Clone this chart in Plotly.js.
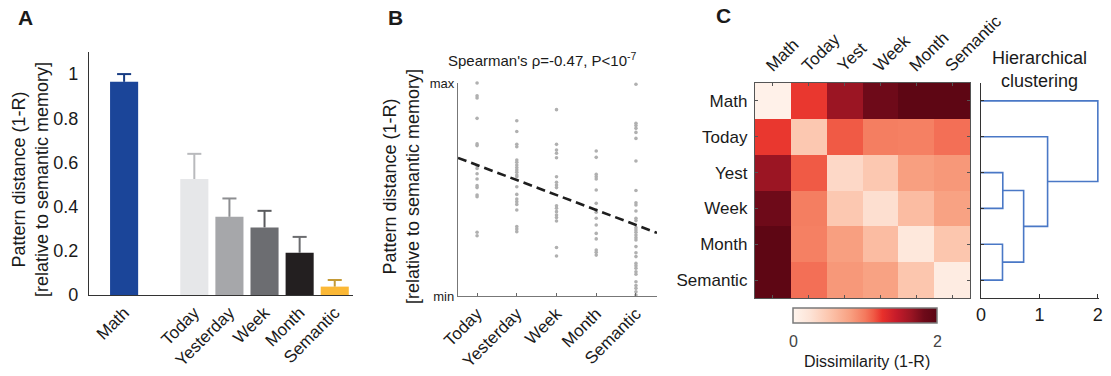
<!DOCTYPE html>
<html>
<head>
<meta charset="utf-8">
<script src="https://cdn.plot.ly/plotly-3.0.1.min.js"></script>
<style>html,body{margin:0;padding:0;background:#fff;}#chart{width:1111px;height:376px;}</style>
</head>
<body>
<div id="chart"></div>
<script>
// ---------- Panel A data ----------
const categoriesA = ['Math', 'Today', 'Yesterday', 'Week', 'Month', 'Semantic'];
const meansA = [0.965, 0.525, 0.354, 0.306, 0.191, 0.038];
const semA = [0.035, 0.114, 0.083, 0.075, 0.072, 0.030];
const barColorsA = ['#1b4599', '#e6e7e9', '#a6a7aa', '#6c6d71', '#231f20', '#fbb836'];
const errColorsA = ['#163b82', '#b9babd', '#8d8e91', '#5a5b5e', '#6b6c6f', '#c49a36'];

// ---------- Panel B data (normalised min..max) ----------
const categoriesB = ['Today', 'Yesterday', 'Week', 'Month', 'Semantic'];
const distToday = [1.0, 0.94, 0.93, 0.834, 0.714, 0.706, 0.612, 0.599, 0.574, 0.549, 0.518, 0.509, 0.474, 0.466, 0.299, 0.283];
const distYesterday = [0.823, 0.772, 0.712, 0.701, 0.638, 0.628, 0.615, 0.603, 0.592, 0.581, 0.568, 0.560, 0.513, 0.477, 0.455, 0.443, 0.430, 0.404, 0.326, 0.315, 0.302];
const distWeek = [0.875, 0.712, 0.685, 0.670, 0.649, 0.560, 0.534, 0.521, 0.509, 0.424, 0.412, 0.396, 0.380, 0.368, 0.352, 0.228, 0.188];
const distMonth = [0.681, 0.651, 0.571, 0.560, 0.549, 0.498, 0.435, 0.404, 0.393, 0.365, 0.333, 0.294, 0.268, 0.216, 0.205, 0.192];
const distSemantic = [0.994, 0.811, 0.800, 0.787, 0.768, 0.740, 0.634, 0.495, 0.438, 0.427, 0.399, 0.365, 0.354, 0.321, 0.310, 0.299, 0.286, 0.274, 0.263, 0.232, 0.203, 0.185, 0.153, 0.142, 0.130, 0.114, 0.102, 0.067, 0.049, 0.036, 0.020, 0.005];
const fitIntercept = 0.685;
const fitSlope = -0.0703;

// ---------- Panel C data ----------
const labelsC = ['Math', 'Today', 'Yest', 'Week', 'Month', 'Semantic'];
const rowMath = [0.05, 1.22, 1.64, 1.82, 1.96, 1.96];
const rowToday = [1.22, 0.48, 1.12, 0.98, 0.97, 1.04];
const rowYest = [1.64, 1.12, 0.34, 0.48, 0.80, 0.84];
const rowWeek = [1.82, 0.98, 0.48, 0.28, 0.58, 0.78];
const rowMonth = [1.96, 0.97, 0.80, 0.58, 0.18, 0.50];
const rowSemantic = [1.96, 1.04, 0.84, 0.78, 0.50, 0.12];
// dendrogram linkage (leaf indices 0..5, new clusters numbered from 6)
const linkLeft = [2, 4, 6, 1, 0];
const linkRight = [3, 5, 7, 8, 9];
const linkHeight = [0.373, 0.368, 0.73, 1.14, 2.0];

// ---------- helpers ----------
const W = 1111, H = 376;
const px = x => x / W;
const py = y => 1 - y / H;
const FONT = 'Liberation Sans, Arial, Helvetica, sans-serif';
const TXT = '#1a1a1a';

const traces = [];

// Panel A bars
const posA = categoriesA.map((c, i) => (i === 0 ? 1 : i + 2));
const capHalf = 0.2;
categoriesA.forEach((c, i) => {
  traces.push({
    type: 'bar', x: [posA[i]], y: [meansA[i]], width: 0.8,
    marker: {color: barColorsA[i], line: {width: 0}},
    xaxis: 'x', yaxis: 'y', hoverinfo: 'skip', name: c
  });
});
// one-sided (upper) error bars
categoriesA.forEach((c, i) => {
  const top = meansA[i] + semA[i];
  traces.push({
    type: 'scatter', mode: 'lines',
    x: [posA[i], posA[i], null, posA[i] - capHalf, posA[i] + capHalf],
    y: [meansA[i], top, null, top, top],
    line: {color: errColorsA[i], width: 2}, connectgaps: false,
    xaxis: 'x', yaxis: 'y', hoverinfo: 'skip', name: c + ' SEM'
  });
});

// Panel B scatter
const groupsB = [distToday, distYesterday, distWeek, distMonth, distSemantic];
const bx = [], by = [];
groupsB.forEach((g, i) => g.forEach(v => { bx.push(i + 1); by.push(v); }));
traces.push({
  type: 'scatter', mode: 'markers', x: bx, y: by,
  marker: {size: 3.6, color: '#b0b0b0'}, cliponaxis: false,
  xaxis: 'x2', yaxis: 'y2', hoverinfo: 'skip'
});
const xr = [0.52, 5.53];
traces.push({
  type: 'scatter', mode: 'lines', x: xr, y: xr.map(x => fitIntercept + fitSlope * x),
  line: {color: '#1e1e1e', width: 2.6, dash: '9px,5px'},
  xaxis: 'x2', yaxis: 'y2', hoverinfo: 'skip'
});

// Panel C heatmap
traces.push({
  type: 'heatmap', x: labelsC, y: labelsC,
  z: [rowMath, rowToday, rowYest, rowWeek, rowMonth, rowSemantic],
  zmin: 0, zmax: 2,
  colorscale: [
    [0, '#fff5ee'], [0.12, '#fde3d6'], [0.25, '#fcc6ae'], [0.4, '#f89f80'],
    [0.5, '#f47a5e'], [0.56, '#f05a45'], [0.62, '#e8302b'], [0.72, '#c51b2a'],
    [0.82, '#9b1523'], [0.91, '#6e0a19'], [1, '#5a0513']
  ],
  colorbar: {
    orientation: 'h', x: px(865), xanchor: 'center', y: py(308), yanchor: 'top',
    lenmode: 'pixels', len: 144, thickness: 15, xpad: 0, ypad: 0,
    outlinecolor: '#7a7a7a', outlinewidth: 1.5, showticklabels: false, ticks: ''
  },
  xaxis: 'x3', yaxis: 'y3', hoverinfo: 'skip'
});

// Dendrogram
const nodeY = [0, 1, 2, 3, 4, 5];
const nodeH = [0, 0, 0, 0, 0, 0];
const dx = [], dy = [];
linkLeft.forEach((l, k) => {
  const r = linkRight[k], h = linkHeight[k];
  dx.push(nodeH[l], h, h, nodeH[r], null);
  dy.push(nodeY[l], nodeY[l], nodeY[r], nodeY[r], null);
  nodeY.push((nodeY[l] + nodeY[r]) / 2);
  nodeH.push(h);
});
traces.push({
  type: 'scatter', mode: 'lines', x: dx, y: dy,
  line: {color: '#4a78c6', width: 1.6}, connectgaps: false,
  xaxis: 'x4', yaxis: 'y4', hoverinfo: 'skip'
});

const baseAxis = {showgrid: false, zeroline: false, fixedrange: true};

const layout = {
  width: W, height: H,
  margin: {l: 0, r: 0, t: 0, b: 0},
  paper_bgcolor: '#fff', plot_bgcolor: 'rgba(0,0,0,0)',
  showlegend: false, barmode: 'overlay',
  font: {family: FONT, color: TXT},
  xaxis: Object.assign({}, baseAxis, {
    domain: [px(89), px(353)], range: [0, 7.52], anchor: 'y',
    tickvals: posA, ticktext: categoriesA, tickangle: -45,
    tickfont: {size: 17, color: TXT}, ticks: '',
    showline: true, linecolor: '#333', linewidth: 1.2
  }),
  yaxis: Object.assign({}, baseAxis, {
    domain: [py(295), py(52)], range: [0, 1.1], anchor: 'x',
    tickvals: [0, 0.2, 0.4, 0.6, 0.8, 1], ticktext: ['0', '0.2', '0.4', '0.6', '0.8', '1'],
    tickfont: {size: 18, color: TXT}, ticks: '', ticklabelstandoff: 6,
    showline: true, linecolor: '#333', linewidth: 1.2
  }),
  xaxis2: Object.assign({}, baseAxis, {
    domain: [px(458), px(657)], range: xr, anchor: 'y2',
    tickvals: [1, 2, 3, 4, 5], ticktext: categoriesB, tickangle: -45,
    tickfont: {size: 17, color: TXT}, ticks: 'inside', ticklen: 3, tickcolor: '#666',
    showline: true, linecolor: '#777', linewidth: 1.2
  }),
  yaxis2: Object.assign({}, baseAxis, {
    domain: [py(296), py(83)], range: [0, 1], anchor: 'x2',
    tickvals: [0, 1], ticktext: ['min', 'max'],
    tickfont: {size: 13, color: TXT}, ticks: 'inside', ticklen: 3, tickcolor: '#666',
    showline: true, linecolor: '#777', linewidth: 1.2
  }),
  xaxis3: Object.assign({}, baseAxis, {
    domain: [px(755), px(970)], anchor: 'y3', side: 'top', type: 'category',
    tickangle: -45, tickfont: {size: 17, color: TXT}, ticklabelshift: -6,
    ticks: 'inside', ticklen: 3, tickcolor: '#555', mirror: 'ticks',
    showline: true, linecolor: '#555', linewidth: 1.2
  }),
  yaxis3: Object.assign({}, baseAxis, {
    domain: [py(298), py(83)], anchor: 'x3', type: 'category', autorange: 'reversed',
    tickfont: {size: 17, color: TXT}, ticklabelstandoff: 3,
    ticks: 'inside', ticklen: 3, tickcolor: '#555', mirror: 'ticks',
    showline: true, linecolor: '#555', linewidth: 1.2
  }),
  xaxis4: Object.assign({}, baseAxis, {
    domain: [px(981), px(1099)], range: [0, 2.02], anchor: 'y4',
    tickvals: [0, 1, 2], ticktext: ['0', '1', '2'],
    tickfont: {size: 18, color: TXT}, ticks: 'inside', ticklen: 4, tickcolor: '#333',
    showline: true, linecolor: '#333', linewidth: 1.2
  }),
  yaxis4: Object.assign({}, baseAxis, {
    domain: [py(298), py(83)], range: [5.5, -0.5], anchor: 'x4',
    tickvals: [0, 1, 2, 3, 4, 5], showticklabels: false,
    ticks: 'inside', ticklen: 3, tickcolor: '#333',
    showline: true, linecolor: '#333', linewidth: 1.2
  }),
  annotations: [
    {text: '<b>A</b>', x: px(16), y: py(18), xanchor: 'left', yanchor: 'middle', font: {size: 21}},
    {text: '<b>B</b>', x: px(386), y: py(17), xanchor: 'left', yanchor: 'middle', font: {size: 21}},
    {text: '<b>C</b>', x: px(714), y: py(16), xanchor: 'left', yanchor: 'middle', font: {size: 21}},
    {text: 'Pattern distance (1-R)<br>[relative to semantic memory]', x: px(30), y: py(180),
     textangle: -90, xanchor: 'center', yanchor: 'middle', font: {size: 18}},
    {text: 'Pattern distance (1-R)<br>[relative to semantic memory]', x: px(401), y: py(186),
     textangle: -90, xanchor: 'center', yanchor: 'middle', font: {size: 18}},
    {text: 'Spearman\'s ρ=-0.47, P&lt;10<sup>-7</sup>', x: px(542), y: py(60),
     xanchor: 'center', yanchor: 'middle', font: {size: 15}},
    {text: 'Hierarchical<br>clustering', x: px(1039), y: py(69),
     xanchor: 'center', yanchor: 'middle', font: {size: 18}},
    {text: '0', x: px(793), y: py(341), xanchor: 'center', yanchor: 'middle', font: {size: 16, color: '#444'}},
    {text: '2', x: px(937), y: py(341), xanchor: 'center', yanchor: 'middle', font: {size: 16, color: '#444'}},
    {text: 'Dissimilarity (1-R)', x: px(867), y: py(361), xanchor: 'center', yanchor: 'middle', font: {size: 16}}
  ].map(a => Object.assign({xref: 'paper', yref: 'paper', showarrow: false}, a))
};

Plotly.newPlot('chart', traces, layout, {staticPlot: true, displayModeBar: false});
</script>
</body>
</html>
